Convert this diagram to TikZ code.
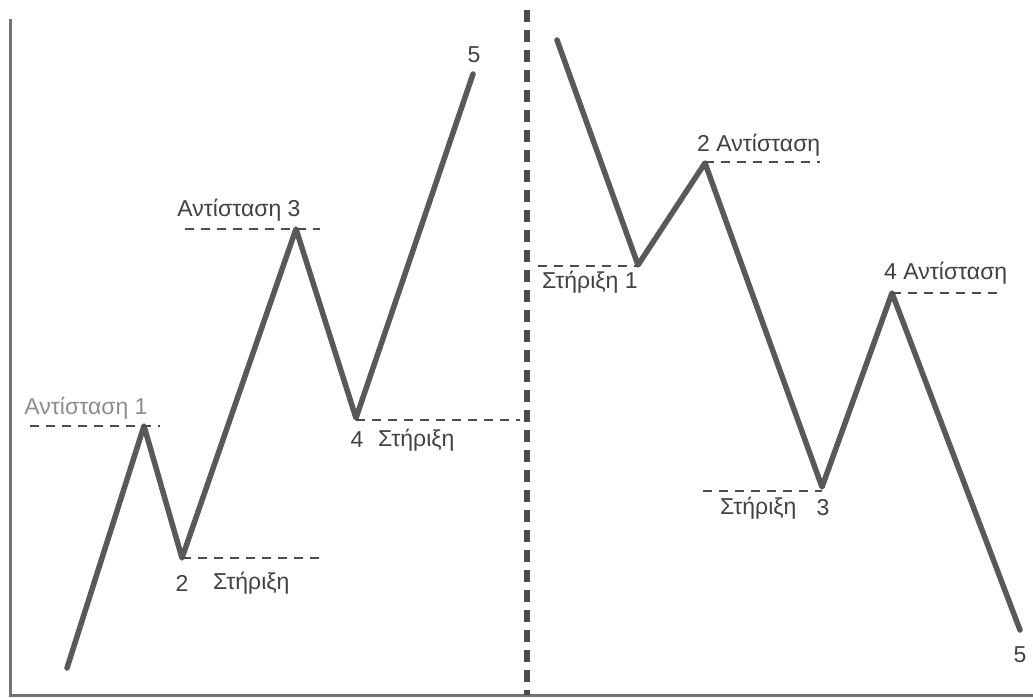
\documentclass[tikz,border=0pt]{standalone}
\usepackage{fontspec}
\setmainfont{Liberation Sans}
\tikzstyle{trend} = [line width=5.5pt,draw=black!65,line join=round,line cap=round]
\tikzstyle{level} = [line width=1.6pt,draw=black!70,dash pattern=on 9pt off 7pt]
\tikzstyle{every node}=[font=\fontsize{23}{27}\selectfont,text=black!75,inner sep=0pt]

\begin{document}
\begin{tikzpicture}[x=1pt,y=-1pt]
    \useasboundingbox (0,0) rectangle (1033,698);
    \draw[line width=3pt,black!55] (10,19) -- (10,695) -- (1033,695);
    \draw[line width=6pt,black!70,dash pattern=on 12pt off 8pt] (527,10) -- (527,695);
    \begin{scope}
	\coordinate (L0) at (67,668);
	\coordinate (L1) at (144,426);
	\coordinate (L2) at (182,558);
	\coordinate (L3) at (296,229);
	\coordinate (L4) at (356,418);
	\coordinate (L5) at (473,74);
	\draw[trend] (L0) -- (L1) -- (L2) -- (L3) -- (L4) -- (L5);
	\coordinate (a1w) at (30,426);
	\coordinate (a1e) at (160,426);
	\coordinate (s2e) at (325,558);
	\coordinate (a3w) at (185,229);
	\coordinate (a3e) at (320,229);
	\coordinate (s4e) at (520,420);
	\draw[level] (a1w) -- (a1e);
	\draw[level] (L2) -- (s2e);
	\draw[level] (a3w) -- (a3e);
	\draw[level] (L4 |- s4e) -- (s4e);
	\node[text=black!45] (a1t) at (86,408) {Αντίσταση 1};
	\node (s2n) at (182,583) {2};
	\node[anchor=west] (s2t) at (213,583) {Στήριξη};
	\node (a3t) at (239,210) {Αντίσταση 3};
	\node (s4n) at (357,440) {4};
	\node[anchor=west] (s4t) at (378,440) {Στήριξη};
	\node (L5t) at (474,55) {5};
    \end{scope}
    \begin{scope}
	\coordinate (R0) at (557,40);
	\coordinate (R1) at (638,265);
	\coordinate (R2) at (705,163);
	\coordinate (R3) at (822,487);
	\coordinate (R4) at (892,293);
	\coordinate (R5) at (1020,630);
	\draw[trend] (R0) -- (R1) -- (R2) -- (R3) -- (R4) -- (R5);
	\coordinate (s1w) at (538,266);
	\coordinate (a2e) at (820,162);
	\coordinate (s3w) at (703,491);
	\coordinate (a4e) at (1000,293);
	\draw[level] (s1w) -- (R1 |- s1w);
	\draw[level] (R2 |- a2e) -- (a2e);
	\draw[level] (s3w) -- (R3 |- s3w);
	\draw[level] (R4) -- (a4e);
	\node[anchor=west] (s1t) at (542,282) {Στήριξη 1};
	\node[anchor=west] (a2t) at (697,145) {2 Αντίσταση};
	\node[anchor=west] (a4t) at (884,273) {4 Αντίσταση};
	\node[anchor=west] (s3t) at (720,508) {Στήριξη};
	\node (s3n) at (823,508) {3};
	\node (R5t) at (1020,655) {5};
    \end{scope}
\end{tikzpicture}
\end{document}
